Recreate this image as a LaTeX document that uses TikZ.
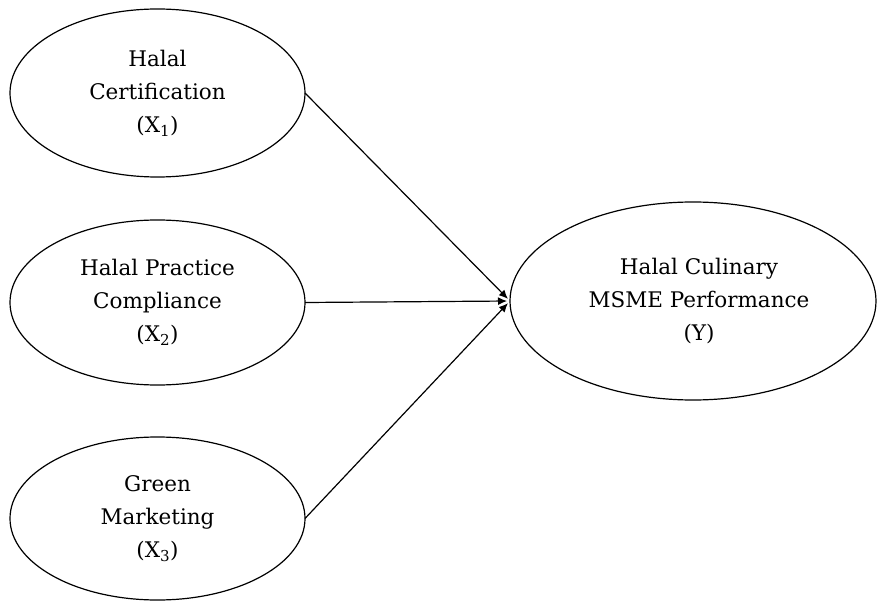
\documentclass[tikz,border=0pt]{standalone}
\usepackage{fontspec}
\setmainfont{DejaVu Serif}
\usetikzlibrary{shapes.geometric,arrows.meta}
\begin{document}
\begin{tikzpicture}[x=1pt,y=-1pt,
  lat/.style={draw, ellipse, line width=1.2pt, inner sep=0pt, outer sep=0pt, align=center,
    font=\fontsize{21.5}{33}\selectfont},
  path/.style={line width=1.2pt, shorten >=3pt, -{Latex[length=9pt,width=8pt]}}]
\useasboundingbox (0,0) rectangle (878,604);
\node[lat, minimum width=295pt, minimum height=168pt] (x1) at (157.5,93) {Halal\\Certification\\(X\textsubscript{1})};
\node[lat, minimum width=295pt, minimum height=165pt] (x2) at (157.5,302.5) {Halal Practice\\Compliance\\(X\textsubscript{2})};
\node[lat, minimum width=295pt, minimum height=163pt] (x3) at (157.5,518.5) {Green\\Marketing\\(X\textsubscript{3})};
\node[lat, minimum width=366pt, minimum height=198pt] (y) at (693,301) {\hspace{12pt}Halal Culinary\\\hspace{12pt}MSME Performance\\\hspace{12pt}(Y)};
\draw[path] (x1.east) -- (y.west);
\draw[path] (x2.east) -- (y.west);
\draw[path] (x3.east) -- (y.west);
\end{tikzpicture}
\end{document}
